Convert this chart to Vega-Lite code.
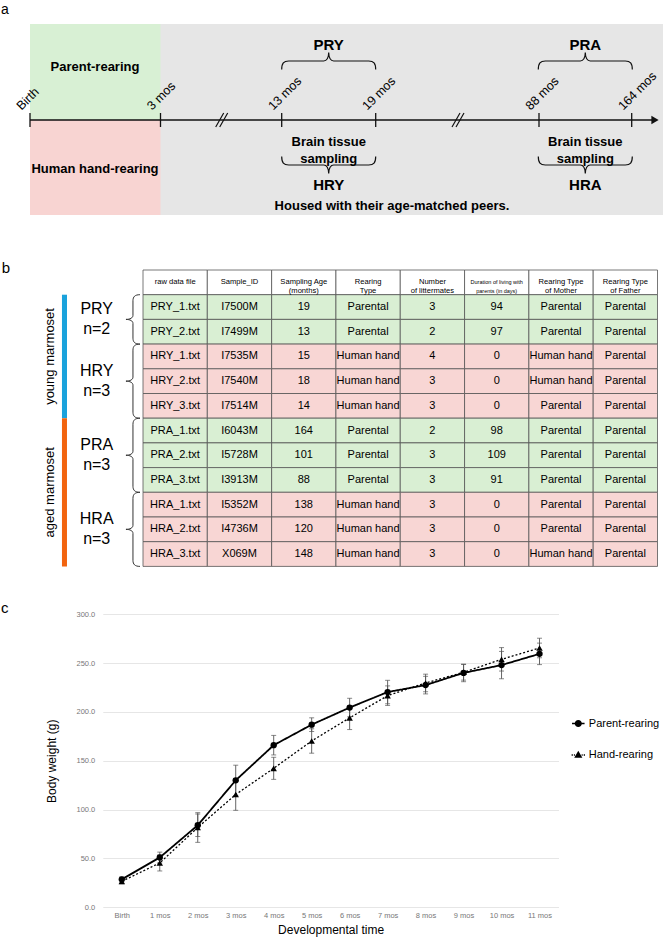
{
"$schema":"https://vega.github.io/schema/vega-lite/v6.json",
"width":663,"height":945,"autosize":{"type":"none"},"padding":0,"background":"white",
"config":{"view":{"stroke":null},"font":"Liberation Sans","text":{"font":"Liberation Sans","color":"#000"}},
"datasets":{
"stages":[{"stage":"Housed with their age-matched peers.","kind":"peer","start":0,"end":63.3,"top":9.6,"bottom":-9.5},{"stage":"Parent-rearing","kind":"parent","start":0,"end":13.05,"top":9.6,"bottom":0},{"stage":"Human hand-rearing","kind":"hand","start":0,"end":13.05,"top":0,"bottom":-9.5}],
"stageLabels":[{"text":"Parent-rearing","cx":6.5,"cy":5.3},{"text":"Human hand-rearing","cx":6.5,"cy":-4.9},{"text":"Housed with their age-matched peers.","cx":36.2,"cy":-8.6}],
"milestones":[{"label":"Birth","pos":0},{"label":"3 mos","pos":13.05},{"label":"13 mos","pos":25.17},{"label":"19 mos","pos":34.57},{"label":"88 mos","pos":50.9},{"label":"164 mos","pos":60.17}],
"breaks":[{"between":"3-13 mos","pos":19.17},{"between":"19-88 mos","pos":42.8}],
"sampling":[{"above":"PRY","below":"HRY","center":29.87,"note":"Brain tissue\nsampling"},{"above":"PRA","below":"HRA","center":55.53,"note":"Brain tissue\nsampling"}],
"panels":[{"panel":"a"},{"panel":"b"},{"panel":"c"}],
"table":[
{"file":"raw data file","id":"Sample_ID","age":"Sampling Age\n(months)","type":"Rearing\nType","litter":"Number\nof littermates","dur":"Duration of living with\nparents (in days)","mother":"Rearing Type\nof Mother","father":"Rearing Type\nof Father","kind":"header"},
{"file":"PRY_1.txt","id":"I7500M","age":"19","type":"Parental","litter":"3","dur":"94","mother":"Parental","father":"Parental","kind":"P"},
{"file":"PRY_2.txt","id":"I7499M","age":"13","type":"Parental","litter":"2","dur":"97","mother":"Parental","father":"Parental","kind":"P"},
{"file":"HRY_1.txt","id":"I7535M","age":"15","type":"Human hand","litter":"4","dur":"0","mother":"Human hand","father":"Parental","kind":"H"},
{"file":"HRY_2.txt","id":"I7540M","age":"18","type":"Human hand","litter":"3","dur":"0","mother":"Human hand","father":"Parental","kind":"H"},
{"file":"HRY_3.txt","id":"I7514M","age":"14","type":"Human hand","litter":"3","dur":"0","mother":"Parental","father":"Parental","kind":"H"},
{"file":"PRA_1.txt","id":"I6043M","age":"164","type":"Parental","litter":"2","dur":"98","mother":"Parental","father":"Parental","kind":"P"},
{"file":"PRA_2.txt","id":"I5728M","age":"101","type":"Parental","litter":"3","dur":"109","mother":"Parental","father":"Parental","kind":"P"},
{"file":"PRA_3.txt","id":"I3913M","age":"88","type":"Parental","litter":"3","dur":"91","mother":"Parental","father":"Parental","kind":"P"},
{"file":"HRA_1.txt","id":"I5352M","age":"138","type":"Human hand","litter":"3","dur":"0","mother":"Parental","father":"Parental","kind":"H"},
{"file":"HRA_2.txt","id":"I4736M","age":"120","type":"Human hand","litter":"3","dur":"0","mother":"Parental","father":"Parental","kind":"H"},
{"file":"HRA_3.txt","id":"X069M","age":"148","type":"Human hand","litter":"3","dur":"0","mother":"Human hand","father":"Parental","kind":"H"}
],
"groups":[{"group":"PRY","n":"n=2","mid":2},{"group":"HRY","n":"n=3","mid":4.5},{"group":"PRA","n":"n=3","mid":7.5},{"group":"HRA","n":"n=3","mid":10.5}],
"ages":[{"age":"young marmoset","start":1,"end":6,"mid":3.5},{"age":"aged marmoset","start":6,"end":12,"mid":9}],
"weights":[
{"m":0,"series":"Parent-rearing","mean":28.6,"sd":2.5},{"m":1,"series":"Parent-rearing","mean":51,"sd":5.5},{"m":2,"series":"Parent-rearing","mean":84,"sd":11.5},{"m":3,"series":"Parent-rearing","mean":130,"sd":15.5},{"m":4,"series":"Parent-rearing","mean":166,"sd":10},{"m":5,"series":"Parent-rearing","mean":187,"sd":7},{"m":6,"series":"Parent-rearing","mean":204.5,"sd":9.5},{"m":7,"series":"Parent-rearing","mean":220.4,"sd":12},{"m":8,"series":"Parent-rearing","mean":227.5,"sd":9},{"m":9,"series":"Parent-rearing","mean":240,"sd":9},{"m":10,"series":"Parent-rearing","mean":248,"sd":14},{"m":11,"series":"Parent-rearing","mean":259.5,"sd":11},
{"m":0,"series":"Hand-rearing","mean":26.6,"sd":2.5},{"m":1,"series":"Hand-rearing","mean":45.4,"sd":8.2},{"m":2,"series":"Hand-rearing","mean":81.7,"sd":15.2},{"m":3,"series":"Hand-rearing","mean":115.5,"sd":16.2},{"m":4,"series":"Hand-rearing","mean":142.3,"sd":11.3},{"m":5,"series":"Hand-rearing","mean":170.3,"sd":12.5},{"m":6,"series":"Hand-rearing","mean":194,"sd":12},{"m":7,"series":"Hand-rearing","mean":216.7,"sd":10},{"m":8,"series":"Hand-rearing","mean":229.7,"sd":9},{"m":9,"series":"Hand-rearing","mean":240.6,"sd":8},{"m":10,"series":"Hand-rearing","mean":253.9,"sd":12},{"m":11,"series":"Hand-rearing","mean":265.5,"sd":10}
]
},
"layer":[
{
"layer":[
{"data":{"name":"stages"},"mark":{"type":"rect"},
 "encoding":{"x":{"field":"start","type":"quantitative","scale":{"domain":[-3,63.3],"range":[0,663],"nice":false,"zero":false},"axis":null},
  "x2":{"field":"end"},
  "y":{"field":"top","type":"quantitative","scale":{"domain":[-82.5,12],"range":[945,0],"nice":false,"zero":false},"axis":null},
  "y2":{"field":"bottom"},
  "fill":{"field":"kind","type":"nominal","scale":{"domain":["peer","parent","hand"],"range":["#e6e6e6","#d8f0d4","#f8d4d2"]},"legend":null}}},
{"data":{"values":[{"line":"timeline"}]},"mark":{"type":"rule","color":"#111","strokeWidth":1.3},
 "encoding":{"x":{"datum":0,"type":"quantitative","scale":{"domain":[-3,63.3],"range":[0,663],"nice":false,"zero":false},"axis":null},
  "x2":{"datum":62.3},
  "y":{"datum":0,"type":"quantitative","scale":{"domain":[-82.5,12],"range":[945,0],"nice":false,"zero":false},"axis":null}}},
{"data":{"values":[{"line":"timeline"}]},"mark":{"type":"point","shape":"triangle-right","filled":true,"size":70,"color":"#111","opacity":1},
 "encoding":{"x":{"datum":62.5,"type":"quantitative","scale":{"domain":[-3,63.3],"range":[0,663],"nice":false,"zero":false},"axis":null},
  "y":{"datum":0,"type":"quantitative","scale":{"domain":[-82.5,12],"range":[945,0],"nice":false,"zero":false},"axis":null}}},
{"data":{"name":"milestones"},"mark":{"type":"rule","color":"#111","strokeWidth":1.3},
 "encoding":{"x":{"field":"pos","type":"quantitative","scale":{"domain":[-3,63.3],"range":[0,663],"nice":false,"zero":false},"axis":null},
  "y":{"datum":-0.7,"type":"quantitative","scale":{"domain":[-82.5,12],"range":[945,0],"nice":false,"zero":false},"axis":null},
  "y2":{"datum":0.7}}},
{"data":{"name":"milestones"},"mark":{"type":"text","angle":315,"align":"left","baseline":"alphabetic","fontSize":12.5,"dx":0.5,"dy":-12.5},
 "encoding":{"x":{"field":"pos","type":"quantitative","scale":{"domain":[-3,63.3],"range":[0,663],"nice":false,"zero":false},"axis":null},
  "y":{"datum":0,"type":"quantitative","scale":{"domain":[-82.5,12],"range":[945,0],"nice":false,"zero":false},"axis":null},
  "text":{"field":"label"}}},
{"data":{"name":"breaks"},"mark":{"type":"point","shape":"M-0.75,0.875L0.25,-0.875M-0.25,0.875L0.75,-0.875","filled":false,"size":256,"color":"#111","strokeWidth":1.2,"opacity":1},
 "encoding":{"x":{"field":"pos","type":"quantitative","scale":{"domain":[-3,63.3],"range":[0,663],"nice":false,"zero":false},"axis":null},
  "y":{"datum":0,"type":"quantitative","scale":{"domain":[-82.5,12],"range":[945,0],"nice":false,"zero":false},"axis":null}}},
{"data":{"name":"stageLabels"},"mark":{"type":"text","fontSize":13,"fontWeight":"bold","align":"center","baseline":"middle"},
 "encoding":{"x":{"field":"cx","type":"quantitative","scale":{"domain":[-3,63.3],"range":[0,663],"nice":false,"zero":false},"axis":null},
  "y":{"field":"cy","type":"quantitative","scale":{"domain":[-82.5,12],"range":[945,0],"nice":false,"zero":false},"axis":null},
  "text":{"field":"text"}}},
{"data":{"name":"sampling"},"mark":{"type":"point","shape":"M-1,0.181C-1,0.043 -0.957,0 -0.851,0L-0.106,0C-0.043,0 0,-0.064 0,-0.181C0,-0.064 0.043,0 0.106,0L0.851,0C0.957,0 1,0.043 1,0.181","filled":false,"size":8836,"color":"#111","strokeWidth":1.2,"opacity":1},
 "encoding":{"x":{"field":"center","type":"quantitative","scale":{"domain":[-3,63.3],"range":[0,663],"nice":false,"zero":false},"axis":null},
  "y":{"datum":5.9,"type":"quantitative","scale":{"domain":[-82.5,12],"range":[945,0],"nice":false,"zero":false},"axis":null}}},
{"data":{"name":"sampling"},"mark":{"type":"point","angle":180,"shape":"M-1,0.181C-1,0.043 -0.957,0 -0.851,0L-0.106,0C-0.043,0 0,-0.064 0,-0.181C0,-0.064 0.043,0 0.106,0L0.851,0C0.957,0 1,0.043 1,0.181","filled":false,"size":8836,"color":"#111","strokeWidth":1.2,"opacity":1},
 "encoding":{"x":{"field":"center","type":"quantitative","scale":{"domain":[-3,63.3],"range":[0,663],"nice":false,"zero":false},"axis":null},
  "y":{"datum":-4.5,"type":"quantitative","scale":{"domain":[-82.5,12],"range":[945,0],"nice":false,"zero":false},"axis":null}}},
{"data":{"name":"sampling"},"mark":{"type":"text","fontSize":15,"fontWeight":"bold","align":"center","baseline":"middle"},
 "encoding":{"x":{"field":"center","type":"quantitative","scale":{"domain":[-3,63.3],"range":[0,663],"nice":false,"zero":false},"axis":null},
  "y":{"datum":7.5,"type":"quantitative","scale":{"domain":[-82.5,12],"range":[945,0],"nice":false,"zero":false},"axis":null},
  "text":{"field":"above"}}},
{"data":{"name":"sampling"},"mark":{"type":"text","fontSize":15,"fontWeight":"bold","align":"center","baseline":"middle"},
 "encoding":{"x":{"field":"center","type":"quantitative","scale":{"domain":[-3,63.3],"range":[0,663],"nice":false,"zero":false},"axis":null},
  "y":{"datum":-6.5,"type":"quantitative","scale":{"domain":[-82.5,12],"range":[945,0],"nice":false,"zero":false},"axis":null},
  "text":{"field":"below"}}},
{"data":{"name":"sampling"},"mark":{"type":"text","fontSize":13,"fontWeight":"bold","align":"center","baseline":"middle","lineBreak":"\n","lineHeight":16.7},
 "encoding":{"x":{"field":"center","type":"quantitative","scale":{"domain":[-3,63.3],"range":[0,663],"nice":false,"zero":false},"axis":null},
  "y":{"datum":-2.24,"type":"quantitative","scale":{"domain":[-82.5,12],"range":[945,0],"nice":false,"zero":false},"axis":null},
  "text":{"field":"note"}}},
{"data":{"name":"panels"},"transform":[{"filter":"datum.panel === 'a'"}],"mark":{"type":"text","fontSize":14,"align":"center","baseline":"middle"},
 "encoding":{"x":{"datum":-2.5,"type":"quantitative","scale":{"domain":[-3,63.3],"range":[0,663],"nice":false,"zero":false},"axis":null},
  "y":{"datum":11.05,"type":"quantitative","scale":{"domain":[-82.5,12],"range":[945,0],"nice":false,"zero":false},"axis":null},
  "text":{"field":"panel"}}}
]
},
{
"data":{"name":"table"},
"transform":[{"fold":["file","id","age","type","litter","dur","mother","father"],"as":["col","text"]}],
"encoding":{
 "x":{"field":"col","type":"nominal","scale":{"type":"band","domain":["file","id","age","type","litter","dur","mother","father"],"range":[143,657.5],"paddingInner":0,"paddingOuter":0},"axis":null},
 "y":{"field":"file","type":"nominal","scale":{"type":"band","domain":["raw data file","PRY_1.txt","PRY_2.txt","HRY_1.txt","HRY_2.txt","HRY_3.txt","PRA_1.txt","PRA_2.txt","PRA_3.txt","HRA_1.txt","HRA_2.txt","HRA_3.txt"],"range":[270,566.4],"paddingInner":0,"paddingOuter":0},"axis":null}},
"layer":[
{"mark":{"type":"rect","stroke":"#555","strokeWidth":0.8},
 "encoding":{"fill":{"field":"kind","type":"nominal","scale":{"domain":["header","P","H"],"range":["#ffffff","#d9efd3","#f8d6d4"]},"legend":null}}},
{"transform":[{"filter":"datum.kind !== 'header'"}],"mark":{"type":"text","fontSize":11,"align":"center","baseline":"middle"},
 "encoding":{"text":{"field":"text"}}},
{"transform":[{"filter":"datum.kind === 'header' && datum.col !== 'dur'"}],"mark":{"type":"text","fontSize":7.6,"align":"center","baseline":"middle","lineBreak":"\n","lineHeight":9},
 "encoding":{"text":{"field":"text"}}},
{"transform":[{"filter":"datum.kind === 'header' && datum.col === 'dur'"}],"mark":{"type":"text","fontSize":5.5,"align":"center","baseline":"middle","lineBreak":"\n","lineHeight":9},
 "encoding":{"text":{"field":"text"}}}
]
},
{
"layer":[
{"data":{"name":"ages"},"mark":{"type":"rect"},
 "encoding":{"x":{"datum":-1.26,"type":"quantitative","scale":{"domain":[0,8],"range":[143,657.5],"nice":false,"zero":false},"axis":null},
  "x2":{"datum":-1.182},
  "y":{"field":"start","type":"quantitative","scale":{"domain":[0,12],"range":[270,566.4],"nice":false,"zero":false},"axis":null},
  "y2":{"field":"end"},
  "color":{"field":"age","type":"nominal","scale":{"domain":["young marmoset","aged marmoset"],"range":["#1aa2dc","#f2640f"]},"legend":null}}},
{"data":{"name":"ages"},"mark":{"type":"text","fontSize":13,"angle":270,"align":"center","baseline":"middle"},
 "encoding":{"x":{"datum":-1.446,"type":"quantitative","scale":{"domain":[0,8],"range":[143,657.5],"nice":false,"zero":false},"axis":null},
  "y":{"field":"mid","type":"quantitative","scale":{"domain":[0,12],"range":[270,566.4],"nice":false,"zero":false},"axis":null},
  "text":{"field":"age"}}},
{"data":{"name":"groups"},"transform":[{"filter":"datum.n === 'n=2'"}],"mark":{"type":"point","filled":false,"color":"#333","strokeWidth":1,"opacity":1,"size":2440,"shape":"M0.283,-1C0.081,-1 0,-0.919 0,-0.757L0,-0.162C0,-0.061 -0.121,0 -0.283,0C-0.121,0 0,0.061 0,0.162L0,0.757C0,0.919 0.081,1 0.283,1"},
 "encoding":{"x":{"datum":-0.156,"type":"quantitative","scale":{"domain":[0,8],"range":[143,657.5],"nice":false,"zero":false},"axis":null},
  "y":{"field":"mid","type":"quantitative","scale":{"domain":[0,12],"range":[270,566.4],"nice":false,"zero":false},"axis":null}}},
{"data":{"name":"groups"},"transform":[{"filter":"datum.n === 'n=3'"}],"mark":{"type":"point","filled":false,"color":"#333","strokeWidth":1,"opacity":1,"size":5491,"shape":"M0.189,-1C0.054,-1 0,-0.945 0,-0.837L0,-0.108C0,-0.04 -0.081,0 -0.189,0C-0.081,0 0,0.04 0,0.108L0,0.837C0,0.945 0.054,1 0.189,1"},
 "encoding":{"x":{"datum":-0.156,"type":"quantitative","scale":{"domain":[0,8],"range":[143,657.5],"nice":false,"zero":false},"axis":null},
  "y":{"field":"mid","type":"quantitative","scale":{"domain":[0,12],"range":[270,566.4],"nice":false,"zero":false},"axis":null}}},
{"data":{"name":"groups"},"mark":{"type":"text","fontSize":16,"align":"center","baseline":"middle","dy":-10},
 "encoding":{"x":{"datum":-0.72,"type":"quantitative","scale":{"domain":[0,8],"range":[143,657.5],"nice":false,"zero":false},"axis":null},
  "y":{"field":"mid","type":"quantitative","scale":{"domain":[0,12],"range":[270,566.4],"nice":false,"zero":false},"axis":null},
  "text":{"field":"group"}}},
{"data":{"name":"groups"},"mark":{"type":"text","fontSize":16,"align":"center","baseline":"middle","dy":10},
 "encoding":{"x":{"datum":-0.72,"type":"quantitative","scale":{"domain":[0,8],"range":[143,657.5],"nice":false,"zero":false},"axis":null},
  "y":{"field":"mid","type":"quantitative","scale":{"domain":[0,12],"range":[270,566.4],"nice":false,"zero":false},"axis":null},
  "text":{"field":"n"}}},
{"data":{"name":"panels"},"transform":[{"filter":"datum.panel === 'b'"}],"mark":{"type":"text","fontSize":15,"align":"center","baseline":"middle"},
 "encoding":{"x":{"datum":-2.13,"type":"quantitative","scale":{"domain":[0,8],"range":[143,657.5],"nice":false,"zero":false},"axis":null},
  "y":{"datum":-0.08,"type":"quantitative","scale":{"domain":[0,12],"range":[270,566.4],"nice":false,"zero":false},"axis":null},
  "text":{"field":"panel"}}}
]
},
{
"layer":[
{"data":{"name":"weights"},"mark":{"type":"line","color":"#000"},
 "encoding":{
  "x":{"field":"m","type":"quantitative","scale":{"domain":[-0.5,11.5],"range":[102.8,558.5],"nice":false,"zero":false},
   "axis":{"orient":"bottom","offset":-37.7,"values":[0,1,2,3,4,5,6,7,8,9,10,11],"labelExpr":"datum.value == 0 ? 'Birth' : datum.value + ' mos'","domain":false,"ticks":false,"grid":false,"labelFontSize":7.5,"labelColor":"#777","labelPadding":4,"title":"Developmental time","titleFontSize":12,"titleFontWeight":"normal","titlePadding":6,"titleColor":"#000","labelFont":"Liberation Sans","titleFont":"Liberation Sans"}},
  "y":{"field":"mean","type":"quantitative","scale":{"domain":[0,300],"range":[907.3,614.3],"nice":false,"zero":false},
   "axis":{"orient":"left","offset":-102.8,"values":[0,50,100,150,200,250,300],"format":".1f","domain":false,"ticks":false,"grid":true,"gridColor":"#e6e6e6","gridWidth":1,"labelFontSize":7.5,"labelColor":"#777","labelPadding":8,"title":"Body weight (g)","titleFontSize":12,"titleFontWeight":"normal","titlePadding":18,"titleColor":"#000","labelFont":"Liberation Sans","titleFont":"Liberation Sans"}},
  "strokeDash":{"field":"series","type":"nominal","scale":{"domain":["Parent-rearing","Hand-rearing"],"range":[[1,0],[2,2]]},"legend":null},
  "strokeWidth":{"field":"series","type":"ordinal","scale":{"domain":["Parent-rearing","Hand-rearing"],"range":[1.8,1.3]},"legend":null}}},
{"data":{"name":"weights"},"mark":{"type":"errorbar","ticks":{"size":5,"color":"#555","strokeWidth":0.9},"rule":{"color":"#555","strokeWidth":0.9}},
 "encoding":{
  "x":{"field":"m","type":"quantitative","scale":{"domain":[-0.5,11.5],"range":[102.8,558.5],"nice":false,"zero":false},"title":"Developmental time"},
  "y":{"field":"mean","type":"quantitative","scale":{"domain":[0,300],"range":[907.3,614.3],"nice":false,"zero":false},"title":"Body weight (g)"},
  "yError":{"field":"sd"}}},
{"data":{"name":"weights"},"transform":[{"filter":"datum.series === 'Parent-rearing'"}],"mark":{"type":"point","shape":"circle","filled":true,"size":40,"color":"#000","opacity":1},
 "encoding":{
  "x":{"field":"m","type":"quantitative","scale":{"domain":[-0.5,11.5],"range":[102.8,558.5],"nice":false,"zero":false},"title":"Developmental time"},
  "y":{"field":"mean","type":"quantitative","scale":{"domain":[0,300],"range":[907.3,614.3],"nice":false,"zero":false},"title":"Body weight (g)"}}},
{"data":{"name":"weights"},"transform":[{"filter":"datum.series === 'Hand-rearing'"}],"mark":{"type":"point","shape":"triangle-up","filled":true,"size":42,"color":"#000","opacity":1},
 "encoding":{
  "x":{"field":"m","type":"quantitative","scale":{"domain":[-0.5,11.5],"range":[102.8,558.5],"nice":false,"zero":false},"title":"Developmental time"},
  "y":{"field":"mean","type":"quantitative","scale":{"domain":[0,300],"range":[907.3,614.3],"nice":false,"zero":false},"title":"Body weight (g)"}}},
{"data":{"name":"weights"},"mark":{"type":"point","filled":false,"size":0,"color":"#000","strokeWidth":1.3,"opacity":1},
 "encoding":{
  "x":{"field":"m","type":"quantitative","scale":{"domain":[-0.5,11.5],"range":[102.8,558.5],"nice":false,"zero":false},"title":"Developmental time"},
  "y":{"field":"mean","type":"quantitative","scale":{"domain":[0,300],"range":[907.3,614.3],"nice":false,"zero":false},"title":"Body weight (g)"},
  "shape":{"field":"series","type":"nominal","scale":{"domain":["Parent-rearing","Hand-rearing"],"range":["M-1.5,0H1.5M0.7,0A0.7,0.7 0 1,1 -0.7,0A0.7,0.7 0 1,1 0.7,0M0.45,0A0.45,0.45 0 1,1 -0.45,0A0.45,0.45 0 1,1 0.45,0M0.2,0A0.2,0.2 0 1,1 -0.2,0A0.2,0.2 0 1,1 0.2,0","M-1.6,0H-1.3M-1.05,0H-0.8M0.8,0H1.05M1.3,0H1.6M0,-0.7L0.7,0.5L-0.7,0.5ZM0,-0.35L0.4,0.35L-0.4,0.35ZM0,0L0.15,0.25L-0.15,0.25Z"]},
   "legend":{"title":null,"orient":"none","legendX":572.8,"legendY":718,"padding":0,"labelFontSize":11,"labelFont":"Liberation Sans","labelColor":"#000","labelOffset":5,"rowPadding":18.5,"symbolSize":70,"symbolStrokeWidth":1.3,"symbolStrokeColor":"#000","symbolOpacity":1}}}},
{"data":{"name":"panels"},"transform":[{"filter":"datum.panel === 'c'"}],"mark":{"type":"text","fontSize":15,"align":"center","baseline":"middle"},
 "encoding":{
  "x":{"datum":-3.08,"type":"quantitative","scale":{"domain":[-0.5,11.5],"range":[102.8,558.5],"nice":false,"zero":false},"title":"Developmental time"},
  "y":{"datum":306.4,"type":"quantitative","scale":{"domain":[0,300],"range":[907.3,614.3],"nice":false,"zero":false},"title":"Body weight (g)"},
  "text":{"field":"panel"}}}
]
}
],
"resolve":{"scale":{"x":"independent","y":"independent","fill":"independent","color":"independent","size":"independent","strokeDash":"independent","strokeWidth":"independent"}}
}
